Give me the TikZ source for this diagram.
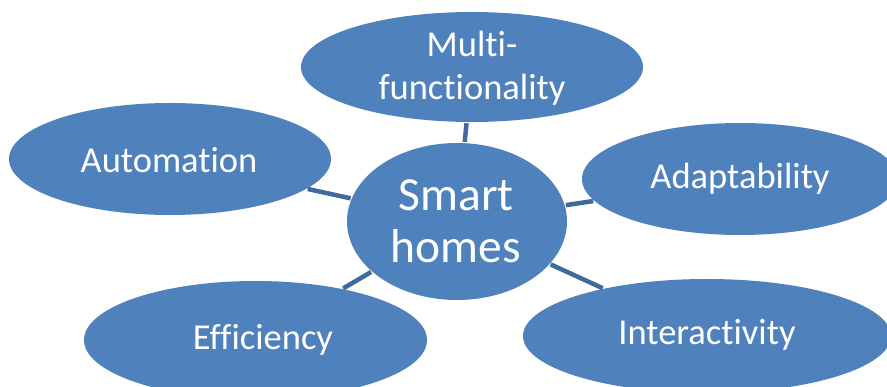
\documentclass[tikz,border=0pt]{standalone}
\usepackage{fontspec}
\setmainfont{Carlito}[Ligatures={NoCommon,NoRequired,NoContextual}]
\usetikzlibrary{shapes.geometric}
\definecolor{bubble}{RGB}{79,129,189}
\definecolor{linkc}{RGB}{62,106,158}
\tikzset{
  bub/.style={ellipse, fill=bubble, draw=none, inner sep=0pt},
  bubtext/.style={text=white, font=\fontsize{36.5}{43}\selectfont, align=center, inner sep=0pt},
  link/.style={draw=linkc, line width=4.5pt, shorten <=1pt, shorten >=1pt},
}
\begin{document}
\begin{tikzpicture}[x=1pt,y=-1pt]
\useasboundingbox (0,0) rectangle (887,387);
% centre
\node[bub, minimum width=220pt, minimum height=157pt] (c) at (457,221.5) {};
\node[bubtext, font=\fontsize{47.5}{52}\selectfont] (ct) at (456,221) {Smart\\homes};
% outer bubbles
\node[bub, minimum width=342pt, minimum height=110pt] (m) at (472,67) {};
\node[bubtext] (mt) at (472,68) {Multi-\\functionality};
\node[bub, minimum width=322pt, minimum height=112pt] (au) at (170,159) {};
\node[bubtext] (aut) at (169,160) {Automation};
\node[bub, minimum width=316pt, minimum height=112pt] (ad) at (740,179) {};
\node[bubtext] (adt) at (740,178.5) {Adaptability};
\node[bub, minimum width=343pt, minimum height=118pt] (ef) at (255.5,340) {};
\node[bubtext] (eft) at (263,340) {Efficiency};
\node[bub, minimum width=368pt, minimum height=114pt] (in) at (707,336) {};
\node[bubtext] (int) at (707,335) {Interactivity};
% connectors
\draw[link] (c) -- (m);
\draw[link] (c) -- (au);
\draw[link] (c) -- (ad);
\draw[link] (c) -- (ef);
\draw[link] (c) -- (in);
\end{tikzpicture}
\end{document}
